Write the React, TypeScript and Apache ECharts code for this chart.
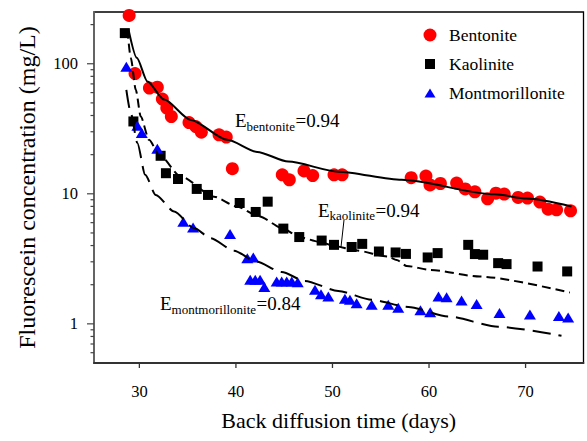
import React, { useEffect, useRef } from 'react';
import * as echarts from 'echarts';

const FONT = 'Liberation Serif';

// Measured data points: [back diffusion time (days), concentration (mg/L)]
const bentonite: [number, number][] = [
  [28.94, 235], [29.55, 84], [31.04, 65], [31.86, 66], [32.38, 53.5], [32.84, 45.6],
  [33.31, 39.3], [35.14, 35.3], [35.84, 32.9], [36.42, 29.8], [38.25, 28.4], [39.0, 27.3],
  [39.63, 15.6], [44.8, 14.0], [45.53, 12.8], [47.05, 15.0], [47.95, 13.8], [50.16, 14.0],
  [51.0, 14.0], [58.15, 13.3], [59.68, 13.7], [60.1, 11.7], [61.18, 12.0], [62.86, 12.1],
  [63.75, 10.9], [64.75, 10.35], [66.07, 9.15], [66.93, 10.1], [67.79, 9.95], [69.23, 9.37],
  [70.2, 9.27], [71.48, 8.63], [72.34, 7.62], [73.21, 7.53], [74.66, 7.4],
];

const kaolinite: [number, number][] = [
  [28.49, 172], [29.38, 36], [32.2, 19.6], [32.75, 14.4], [34.0, 13.0], [35.94, 10.9],
  [37.11, 9.8], [40.39, 8.5], [42.05, 7.25], [43.29, 8.7], [44.91, 5.4], [46.56, 4.65],
  [48.88, 4.37], [50.16, 4.05], [51.99, 3.9], [53.08, 4.12], [54.81, 3.6], [56.54, 3.54],
  [57.61, 3.45], [59.86, 3.24], [60.89, 3.5], [64.06, 4.05], [64.75, 3.44], [65.61, 3.4],
  [67.16, 2.93], [68.03, 2.88], [71.24, 2.76], [74.31, 2.53],
];

const montmorillonite: [number, number][] = [
  [28.65, 95], [29.79, 33.3], [30.25, 29.3], [31.86, 22.2], [34.55, 6.1], [35.56, 5.5],
  [39.39, 4.9], [41.18, 3.2], [41.8, 3.24], [41.48, 2.18], [42.0, 2.18], [42.5, 2.18],
  [42.94, 1.92], [44.22, 2.12], [44.74, 2.12], [45.26, 2.12], [45.78, 2.12], [46.4, 2.09],
  [48.19, 1.83], [48.81, 1.69], [49.57, 1.62], [51.29, 1.56], [51.81, 1.53], [52.5, 1.44],
  [54.06, 1.4], [55.78, 1.4], [56.81, 1.33], [59.11, 1.27], [60.12, 1.23], [60.98, 1.62],
  [61.82, 1.6], [63.37, 1.51], [64.93, 1.42], [67.3, 1.21], [70.45, 1.18], [73.45, 1.15],
  [74.41, 1.12],
];

// Model fit curves
const bentoniteFit: [number, number][] = [
  [28.86, 185], [29.73, 111], [30.83, 73], [32.56, 53], [35.32, 37], [39.1, 26],
  [42.2, 21], [45.42, 17.7], [50.6, 14.8], [57.16, 12.8], [66.8, 9.9], [70.1, 9.2], [74.76, 8.0],
];

const kaoliniteFit: [number, number][] = [
  [28.76, 183], [29.11, 111], [29.63, 63], [30.14, 39.3], [31.0, 26], [32.04, 20],
  [34.29, 13.6], [37.73, 9.5], [40.08, 8.0], [42.39, 6.7], [44.91, 5.4], [46.56, 4.64],
  [48.7, 4.27], [50.16, 3.98], [52.33, 3.68], [55.78, 3.29], [56.65, 3.1], [57.68, 2.79],
  [60.09, 2.6], [65.27, 2.31], [74.59, 1.74],
];

const montmorilloniteFit: [number, number][] = [
  [28.65, 63], [29.11, 41.8], [29.79, 24.6], [30.6, 14], [31.7, 9.8], [33.6, 7.3],
  [35.66, 5.45], [37.39, 4.56], [39.8, 3.65], [42.1, 3.02], [44.74, 2.5], [47.15, 2.14],
  [50.6, 1.79], [54.06, 1.53], [57.85, 1.35], [61.99, 1.14], [67.16, 0.95], [73.72, 0.81],
];

const xTickValues = [30, 40, 50, 60, 70];
const yMajorTicks = [1, 10, 100];
const yMinorTicks = [
  0.6, 0.7, 0.8, 0.9, 2, 3, 4, 5, 6, 7, 8, 9, 20, 30, 40, 50, 60, 70, 80, 90, 200,
];

// Efficiency annotations: subscript and value text
const annotations = [
  { sub: 'bentonite', value: '=0.94', x: 235, baseline: 126, subWidth: 48.4 },
  { sub: 'kaolinite', value: '=0.94', x: 318, baseline: 215.5, subWidth: 45.5 },
  { sub: 'montmorillonite', value: '=0.84', x: 160, baseline: 309, subWidth: 84.5 },
];

const X_MIN = 25.3;
const X_MAX = 76;
const Y_MIN = 0.5;
const Y_MAX = 250;

type Tick = { axis: 'x' | 'y'; v: number; len: number };
const tickItems: Tick[] = [
  ...xTickValues.map((v) => ({ axis: 'x' as const, v, len: 5 })),
  ...yMajorTicks.map((v) => ({ axis: 'y' as const, v, len: 7 })),
  ...yMinorTicks.map((v) => ({ axis: 'y' as const, v, len: 3.5 })),
];

function annotationGraphics() {
  const out: any[] = [];
  const E_W = 11.6;
  annotations.forEach((a) => {
    out.push({
      type: 'text', x: a.x, y: a.baseline - 15,
      style: { text: 'E', font: '19px ' + FONT, fill: '#000' },
    });
    out.push({
      type: 'text', x: a.x + E_W, y: a.baseline + 4 - 10.5,
      style: { text: a.sub, font: '13px ' + FONT, fill: '#000' },
    });
    out.push({
      type: 'text', x: a.x + E_W + a.subWidth + 0.5, y: a.baseline - 15,
      style: { text: a.value, font: '19px ' + FONT, fill: '#000' },
    });
  });
  return out;
}

export default function App() {
  const ref = useRef<HTMLDivElement>(null);

  useEffect(() => {
    if (!ref.current) return;
    const chart = echarts.init(ref.current, undefined, { renderer: 'svg' });

    const option: any = {
      animation: false,
      backgroundColor: '#fff',
      grid: {
        left: 94,
        right: 3.5,
        top: 12,
        bottom: 78,
        show: true,
        borderColor: '#000',
        borderWidth: 1.3,
        backgroundColor: 'transparent',
      },
      legend: {
        orient: 'vertical',
        left: 418,
        top: 21,
        itemWidth: 21,
        itemHeight: 14,
        itemGap: 11,
        textStyle: {
          fontFamily: FONT,
          fontSize: 17.5,
          color: '#000',
        },
        data: [
          { name: 'Bentonite', icon: 'path://M0,0M21,14M0.5,7A6.5,6.5,0,1,0,13.5,7A6.5,6.5,0,1,0,0.5,7Z' },
          { name: 'Kaolinite', icon: 'path://M0,0M21,14M2,2L12,2L12,12L2,12Z' },
          { name: 'Montmorillonite', icon: 'path://M0,0M21,14M7,2.5L12.5,11.5L1.5,11.5Z' },
        ],
      },
      xAxis: {
        type: 'value',
        min: X_MIN,
        max: X_MAX,
        splitNumber: 5,
        name: 'Back diffusion time (days)',
        nameLocation: 'middle',
        nameGap: 46,
        nameTextStyle: { fontFamily: FONT, fontSize: 22, color: '#000' },
        axisLine: { show: true, onZero: false, lineStyle: { color: '#333', width: 1.8 } },
        axisTick: { show: false },
        splitLine: { show: false },
        axisLabel: {
          margin: 20,
          fontFamily: FONT,
          fontSize: 16.5,
          color: '#000',
          formatter: (v: number) => (xTickValues.includes(Math.round(v * 1000) / 1000) ? String(Math.round(v)) : ''),
        },
      },
      yAxis: {
        type: 'log',
        logBase: 10,
        min: Y_MIN,
        max: Y_MAX,
        name: 'Fluorescein concentration (mg/L)',
        nameLocation: 'middle',
        nameGap: 55,
        nameTextStyle: { fontFamily: FONT, fontSize: 24, color: '#000' },
        axisLine: { show: true, onZero: false, lineStyle: { color: '#666', width: 1.8 } },
        axisTick: { show: false },
        minorTick: { show: false },
        splitLine: { show: false },
        axisLabel: {
          margin: 16,
          fontFamily: FONT,
          fontSize: 16.5,
          color: '#000',
          formatter: (v: number) => {
            const r = Math.round(v * 1000) / 1000;
            return yMajorTicks.includes(r) ? String(r) : '';
          },
        },
      },
      series: [
        {
          name: 'Bentonite',
          type: 'scatter',
          symbol: 'circle',
          symbolSize: 13,
          itemStyle: { color: '#ff0000', opacity: 1 },
          data: bentonite,
          z: 2,
        },
        {
          name: 'Kaolinite',
          type: 'scatter',
          symbol: 'rect',
          symbolSize: 10,
          itemStyle: { color: '#000000', opacity: 1 },
          data: kaolinite,
          z: 2,
        },
        {
          name: 'Montmorillonite',
          type: 'scatter',
          symbol: 'triangle',
          symbolSize: [12, 10],
          itemStyle: { color: '#0000ff', opacity: 1 },
          data: montmorillonite,
          z: 2,
        },
        {
          name: 'bentoniteFit',
          type: 'line',
          data: bentoniteFit,
          showSymbol: false,
          smooth: 0.25,
          smoothMonotone: 'x',
          lineStyle: { color: '#000', width: 2, type: 'solid' },
          z: 3,
          silent: true,
        },
        {
          name: 'kaoliniteFit',
          type: 'line',
          data: kaoliniteFit,
          showSymbol: false,
          smooth: 0.25,
          smoothMonotone: 'x',
          lineStyle: { color: '#000', width: 2, type: [9, 5] },
          z: 3,
          silent: true,
        },
        {
          name: 'montmorilloniteFit',
          type: 'line',
          data: montmorilloniteFit,
          showSymbol: false,
          smooth: 0.25,
          smoothMonotone: 'x',
          lineStyle: { color: '#000', width: 2, type: [18, 8] },
          z: 3,
          silent: true,
        },
        {
          name: 'ticks',
          type: 'custom',
          clip: false,
          silent: true,
          z: 5,
          data: tickItems.map((t) => (t.axis === 'x' ? [t.v, 1] : [30, t.v])),
          renderItem: (params: any, api: any) => {
            const cs = params.coordSys;
            const t = tickItems[params.dataIndex];
            if (t.axis === 'x') {
              const px = api.coord([t.v, 1])[0];
              const y0 = cs.y + cs.height;
              return {
                type: 'line',
                shape: { x1: px, y1: y0, x2: px, y2: y0 + t.len },
                style: { stroke: '#333', lineWidth: 1.3 },
              };
            }
            const py = api.coord([30, t.v])[1];
            return {
              type: 'line',
              shape: { x1: cs.x, y1: py, x2: cs.x - t.len, y2: py },
              style: { stroke: '#444', lineWidth: 1.2 },
            };
          },
        },
      ],
      graphic: [
        ...annotationGraphics(),
        {
          type: 'line',
          shape: { x1: 344, y1: 220, x2: 341, y2: 247 },
          style: { stroke: '#000', lineWidth: 1 },
        },
      ],
    };

    chart.setOption(option);
    return () => chart.dispose();
  }, []);

  return (
    <div
      ref={ref}
      style={{ position: 'fixed', left: 0, top: 0, width: 587, height: 441, background: '#fff' }}
    />
  );
}
